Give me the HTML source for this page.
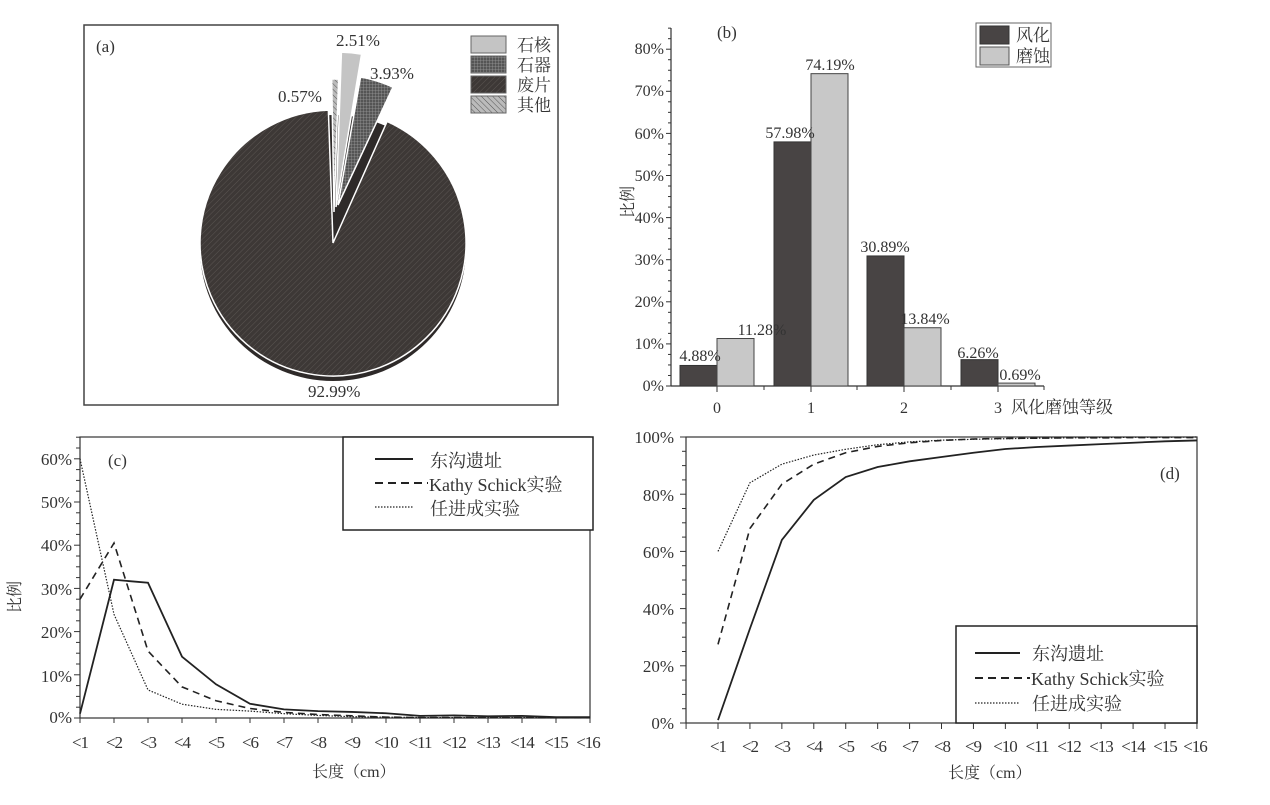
<!DOCTYPE html>
<html><head><meta charset="utf-8"><style>
body{margin:0;background:#fff;}
svg{display:block;font-family:"Liberation Serif","Noto Serif CJK SC","Noto Sans CJK SC",serif;}
text{fill:#333;}
</style></head><body>
<svg id="s" width="1270" height="805" viewBox="0 0 1270 805" xmlns="http://www.w3.org/2000/svg">
<defs>
<pattern id="hWaste" width="4" height="4" patternUnits="userSpaceOnUse" patternTransform="rotate(45)">
<rect width="4" height="4" fill="#3d3836"/><line x1="0" y1="0" x2="0" y2="4" stroke="#5a5552" stroke-width="1"/></pattern>
<pattern id="hTool" width="3" height="3" patternUnits="userSpaceOnUse">
<rect width="3" height="3" fill="#555"/><path d="M0 0H3M0 0V3" stroke="#999" stroke-width="0.8"/></pattern>
<pattern id="hOther" width="4" height="4" patternUnits="userSpaceOnUse" patternTransform="rotate(-45)">
<rect width="4" height="4" fill="#bbb"/><line x1="0" y1="0" x2="0" y2="4" stroke="#555" stroke-width="1"/></pattern>
</defs>
<!-- Panel a -->
<rect x="84" y="25" width="474" height="380" fill="none" stroke="#444" stroke-width="1.5"/>
<g id="pie"></g>
<text x="96" y="52" font-size="17">(a)</text>
<text x="336" y="46" font-size="17">2.51%</text>
<text x="370" y="79" font-size="17">3.93%</text>
<text x="278" y="102" font-size="17">0.57%</text>
<text x="308" y="397" font-size="17">92.99%</text>
<rect x="471" y="36" width="35" height="17" fill="#c4c4c4" stroke="#666"/>
<rect x="471" y="56" width="35" height="17" fill="url(#hTool)" stroke="#666"/>
<rect x="471" y="76" width="35" height="17" fill="url(#hWaste)" stroke="#666"/>
<rect x="471" y="96" width="35" height="17" fill="url(#hOther)" stroke="#666"/>
<text x="517" y="51" font-size="17">石核</text>
<text x="517" y="71" font-size="17">石器</text>
<text x="517" y="91" font-size="17">废片</text>
<text x="517" y="111" font-size="17">其他</text>

<!-- Panel b -->
<g id="pb"></g>
<g font-size="16" text-anchor="end">
<text x="664" y="391">0%</text><text x="664" y="349">10%</text><text x="664" y="307">20%</text><text x="664" y="265">30%</text><text x="664" y="223">40%</text><text x="664" y="181">50%</text><text x="664" y="139">60%</text><text x="664" y="96">70%</text><text x="664" y="54">80%</text>
</g>
<g font-size="16" text-anchor="middle">
<text x="717" y="413">0</text><text x="811" y="413">1</text><text x="904" y="413">2</text><text x="998" y="413">3</text>
<text x="700" y="361">4.88%</text><text x="762" y="335">11.28%</text>
<text x="790" y="138">57.98%</text><text x="830" y="70">74.19%</text>
<text x="885" y="252">30.89%</text><text x="925" y="324">13.84%</text>
<text x="978" y="358">6.26%</text><text x="1020" y="380">0.69%</text>
</g>
<text x="1011" y="413" font-size="17">风化磨蚀等级</text>
<text x="717" y="38" font-size="17">(b)</text>
<text transform="translate(633,218) rotate(-90)" font-size="16">比例</text>
<rect x="976" y="23" width="75" height="44" fill="#fff" stroke="#666"/>
<rect x="980" y="26" width="29" height="18" fill="#484444" stroke="#333"/>
<rect x="980" y="47" width="29" height="18" fill="#c8c8c8" stroke="#555"/>
<text x="1016" y="41" font-size="17">风化</text>
<text x="1016" y="62" font-size="17">磨蚀</text>

<!-- Panel c -->
<g id="pc"></g>
<g font-size="17" text-anchor="end">
<text x="72" y="723">0%</text><text x="72" y="682">10%</text><text x="72" y="638">20%</text><text x="72" y="595">30%</text><text x="72" y="551">40%</text><text x="72" y="508">50%</text><text x="72" y="465">60%</text>
</g>
<g font-size="17" text-anchor="middle" letter-spacing="-1">
<text x="80" y="748">&lt;1</text><text x="114" y="748">&lt;2</text><text x="148" y="748">&lt;3</text><text x="182" y="748">&lt;4</text><text x="216" y="748">&lt;5</text><text x="250" y="748">&lt;6</text><text x="284" y="748">&lt;7</text><text x="318" y="748">&lt;8</text><text x="352" y="748">&lt;9</text><text x="386" y="748">&lt;10</text><text x="420" y="748">&lt;11</text><text x="454" y="748">&lt;12</text><text x="488" y="748">&lt;13</text><text x="522" y="748">&lt;14</text><text x="556" y="748">&lt;15</text><text x="588" y="748">&lt;16</text>
</g>
<text x="312" y="777" font-size="16">长度（cm）</text>
<text x="108" y="466" font-size="17">(c)</text>
<text transform="translate(20,613) rotate(-90)" font-size="16">比例</text>
<g font-size="18">
<text x="430" y="467">东沟遗址</text><text x="429" y="491">Kathy Schick实验</text><text x="430" y="515">任进成实验</text>
</g>

<!-- Panel d -->
<g id="pd"></g>
<g font-size="17" text-anchor="end">
<text x="674" y="729">0%</text><text x="674" y="672">20%</text><text x="674" y="615">40%</text><text x="674" y="558">60%</text><text x="674" y="501">80%</text><text x="674" y="443">100%</text>
</g>
<g font-size="17" text-anchor="middle" letter-spacing="-1">
<text x="718" y="752">&lt;1</text><text x="750" y="752">&lt;2</text><text x="782" y="752">&lt;3</text><text x="814" y="752">&lt;4</text><text x="846" y="752">&lt;5</text><text x="878" y="752">&lt;6</text><text x="910" y="752">&lt;7</text><text x="942" y="752">&lt;8</text><text x="973" y="752">&lt;9</text><text x="1005" y="752">&lt;10</text><text x="1037" y="752">&lt;11</text><text x="1069" y="752">&lt;12</text><text x="1101" y="752">&lt;13</text><text x="1133" y="752">&lt;14</text><text x="1165" y="752">&lt;15</text><text x="1195" y="752">&lt;16</text>
</g>
<text x="948" y="778" font-size="16">长度（cm）</text>
<text x="1160" y="479" font-size="17">(d)</text>
<g font-size="18">
<text x="1032" y="660">东沟遗址</text><text x="1031" y="685">Kathy Schick实验</text><text x="1032" y="710">任进成实验</text>
</g>
</svg>
<script>
const NS="http://www.w3.org/2000/svg";
function el(p,t,a){const e=document.createElementNS(NS,t);for(const k in a)e.setAttribute(k,a[k]);p.appendChild(e);return e;}
const pie=document.getElementById('pie');
function slice(cx,cy,r,a0,a1,fill,ry){ry=ry||r;const f=a=>[cx+r*Math.sin(a*Math.PI/180),cy-ry*Math.cos(a*Math.PI/180)];
 const p0=f(a0),p1=f(a1);const large=(a1-a0)>180?1:0;
 return el(pie,'path',{d:`M${cx} ${cy}L${p0[0]} ${p0[1]}A${r} ${ry} 0 ${large} 1 ${p1[0]} ${p1[1]}Z`,fill:fill,stroke:'#fff','stroke-width':1.5});}
el(pie,'ellipse',{cx:333,cy:248,rx:133,ry:133,fill:'#2e2a29'});
slice(333,243,133,24,358,'url(#hWaste)',133);
slice(334,212,133,-1,2,'url(#hOther)');
slice(336,207,155,2,9.5,'#c4c4c4');
slice(338,205,130,10,25,'url(#hTool)');
const pb=document.getElementById('pb');
el(pb,'line',{x1:671,y1:28,x2:671,y2:386,stroke:'#333','stroke-width':1.2});
el(pb,'line',{x1:671,y1:386,x2:1044,y2:386,stroke:'#333','stroke-width':1.2});
for(let v=0;v<=85;v+=2.5){const y=386-4.21*v;const maj=v%10==0;el(pb,'line',{x1:maj?666:668,y1:y,x2:671,y2:y,stroke:'#333'});}
[717,811,904,998].forEach(x=>el(pb,'line',{x1:x,y1:386,x2:x,y2:392,stroke:'#333'}));
[764,857,951,1044].forEach(x=>el(pb,'line',{x1:x,y1:386,x2:x,y2:390,stroke:'#333'}));
const bd=[[4.88,11.28],[57.98,74.19],[30.89,13.84],[6.26,0.69]];
[717,811,904,998].forEach((c,i)=>{
 el(pb,'rect',{x:c-37,y:386-4.21*bd[i][0],width:37,height:4.21*bd[i][0],fill:'#484444',stroke:'#333'});
 el(pb,'rect',{x:c,y:386-4.21*bd[i][1],width:37,height:4.21*bd[i][1],fill:'#c8c8c8',stroke:'#444'});});
const pc=document.getElementById('pc');
el(pc,'rect',{x:80,y:437,width:510,height:281,fill:'none',stroke:'#333','stroke-width':1.2});
for(let v=0;v<=65;v+=2.5){const y=718-4.32*v;const maj=v%10==0;el(pc,'line',{x1:maj?74:76,y1:y,x2:80,y2:y,stroke:'#333'});}
for(let i=0;i<16;i++){const x=80+34*i;el(pc,'line',{x1:x,y1:718,x2:x,y2:723,stroke:'#333'});}
function line(g,xs,ys,dash,w){el(g,'polyline',{points:xs.map((x,i)=>x+','+ys[i]).join(' '),fill:'none',stroke:'#222','stroke-width':w||1.6,'stroke-dasharray':dash||'none'});}
const c1=[1,32,31.3,14.2,7.8,3.3,2,1.6,1.4,1.1,0.5,0.6,0.4,0.5,0.2,0.2];
const c2=[27.5,40.5,15.5,7.2,4,2.2,1.3,0.8,0.5,0.2,0.1,0.1,0.1,0.1,0.1,0.1];
const c3=[60,24,6.5,3.2,2,1.6,1,0.6,0.3,0.2,0.1,0.1,0.1,0.1,0.1,0.1];
const xc=c1.map((_,i)=>80+34*i);
line(pc,xc,c1.map(v=>718-4.32*v),null,1.8);
line(pc,xc,c2.map(v=>718-4.32*v),'7,5',1.6);
line(pc,xc,c3.map(v=>718-4.32*v),'1.5,1.5',1.2);
el(pc,'rect',{x:343,y:437,width:250,height:93,fill:'#fff',stroke:'#222','stroke-width':1.5});
line(pc,[375,413],[459,459],null,2);
line(pc,[375,428],[483,483],'8,5',2);
line(pc,[375,413],[507,507],'1.5,1.5',1.2);
const pd=document.getElementById('pd');
el(pd,'rect',{x:686,y:437,width:511,height:286,fill:'none',stroke:'#333','stroke-width':1.2});
for(let v=0;v<=100;v+=5){const y=723-2.86*v;const maj=v%20==0;el(pd,'line',{x1:maj?680:682,y1:y,x2:686,y2:y,stroke:'#333'});}
for(let i=-1;i<16;i++){const x=718+31.93*i;el(pd,'line',{x1:x,y1:723,x2:x,y2:729,stroke:'#333'});}
const d1=[1,33,64,78,86,89.5,91.5,93,94.5,95.8,96.5,97,97.5,98,98.5,98.8];
const d2=[27.5,68,83.5,90.5,94.5,96.7,98,98.8,99.3,99.5,99.6,99.7,99.7,99.8,99.8,99.8];
const d3=[60,84,90.5,93.7,95.7,97.3,98.3,98.9,99.2,99.4,99.6,99.7,99.8,99.9,99.9,100];
const xd=d1.map((_,i)=>718+31.93*i);
line(pd,xd,d1.map(v=>723-2.86*v),null,1.8);
line(pd,xd,d2.map(v=>723-2.86*v),'7,5',1.6);
line(pd,xd,d3.map(v=>723-2.86*v),'1.5,1.5',1.2);
el(pd,'rect',{x:956,y:626,width:241,height:97,fill:'#fff',stroke:'#222','stroke-width':1.5});
line(pd,[975,1020],[653,653],null,2);
line(pd,[975,1030],[678,678],'8,5',2);
line(pd,[975,1020],[703,703],'1.5,1.5',1.2);
</script>
</body></html>
